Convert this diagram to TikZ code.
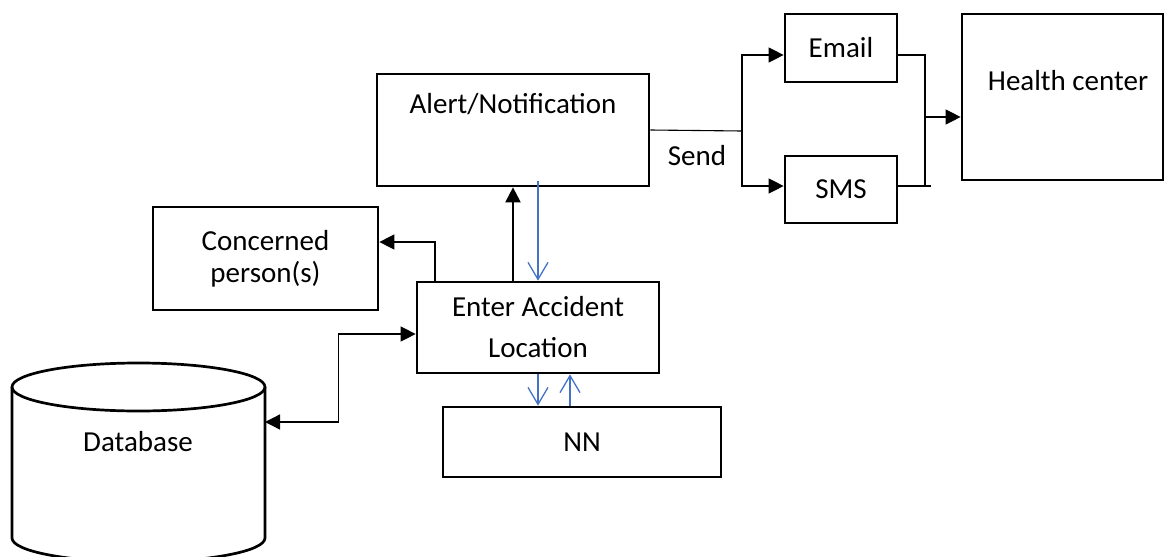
\documentclass[tikz,border=0pt]{standalone}
\usepackage{fontspec}
\setmainfont{Carlito}
\usetikzlibrary{arrows.meta}
\definecolor{arrowblue}{HTML}{4472C4}
\begin{document}
\begin{tikzpicture}[x=1pt,y=-1pt,
  box/.style={draw, line width=2.7pt, inner sep=0pt, align=center,
    font=\fontsize{29}{35}\selectfont},
  txt/.style={inner sep=0pt, font=\fontsize{29}{35}\selectfont},
  conn/.style={line width=1.3pt},
  tri/.style={-{Triangle[length=15pt,width=15pt]}},
  bluearrow/.style={draw=arrowblue, line width=1.3pt, -{Straight Barb[length=17pt,width=20pt]}}
]
\useasboundingbox (0,0) rectangle (1165,557);
\clip (0,0) rectangle (1165,557);

% boxes
\node[box, minimum width=272pt, minimum height=112pt] (alert) at (513,130) {};
\node[txt, anchor=base] (alerttext) at (513,113) {Alert/Notification};
\node[box, minimum width=225pt, minimum height=103pt, font=\fontsize{29}{32}\selectfont] (concerned) at (265.5,258.5) {Concerned\\person(s)};
\node[box, minimum width=242pt, minimum height=91pt, font=\fontsize{29}{41}\selectfont] (enter) at (538,327.5) {Enter Accident\\Location};
\node[box, minimum width=278pt, minimum height=70pt] (nn) at (582,442) {NN};
\node[box, minimum width=112pt, minimum height=68pt] (email) at (841,48) {Email};
\node[box, minimum width=112pt, minimum height=67pt] (sms) at (841,189.5) {SMS};
\node[box, minimum width=201pt, minimum height=166pt] (health) at (1062.5,97) {};
\node[txt, anchor=base] (healthtext) at (1068,90) {Health center};

% database cylinder
\draw[line width=2.7pt] (138.5,387) ellipse [x radius=126.5pt, y radius=24pt];
\draw[line width=2.7pt] (12,387) -- (12,538) arc[start angle=180, end angle=360, x radius=126.5pt, y radius=24pt] -- (265,387);
\node[txt] (dbtext) at (138,442) {Database};
\coordinate (db) at (265,422);

% connectors
\draw[conn, line width=2pt, tri] (enter.north -| alert.south) -- (alert.south);
\draw[bluearrow] ([yshift=6pt]alert.south -| enter.north) -- (enter.north);
\draw[conn, tri] ([xshift=-103pt]enter.north) |- ([yshift=16.5pt]concerned.east);
\draw[conn, {Triangle[length=15pt,width=15pt]}-{Triangle[length=15pt,width=15pt]}]
  ([yshift=-6.5pt]enter.west) -- ++(-77,0) |- (db);
\draw[bluearrow] (enter.south) -- (enter.south |- nn.north);
\draw[bluearrow] ([xshift=32pt]enter.south |- nn.north) -- ([xshift=32pt]enter.south);

% send branch
\coordinate (split) at (742,131);
\draw[conn, line width=1.1pt] (alert.east) -- (split);
\draw[conn, tri] (split) |- ([yshift=-7pt]email.west);
\draw[conn, tri] (split) |- ([yshift=3.5pt]sms.west);
\node[txt, anchor=base] (send) at (697,165) {Send};

% merge to health center
\coordinate (join) at (925,186);
\coordinate (merge) at (925,117);
\draw[conn, line width=1.1pt] ([yshift=-7pt]email.east) -| (join);
\draw[conn, line width=1.1pt] ([yshift=3.5pt]sms.east) -- ++(33,0);
\draw[conn, tri] (merge) -- (merge -| health.west);
\end{tikzpicture}
\end{document}
